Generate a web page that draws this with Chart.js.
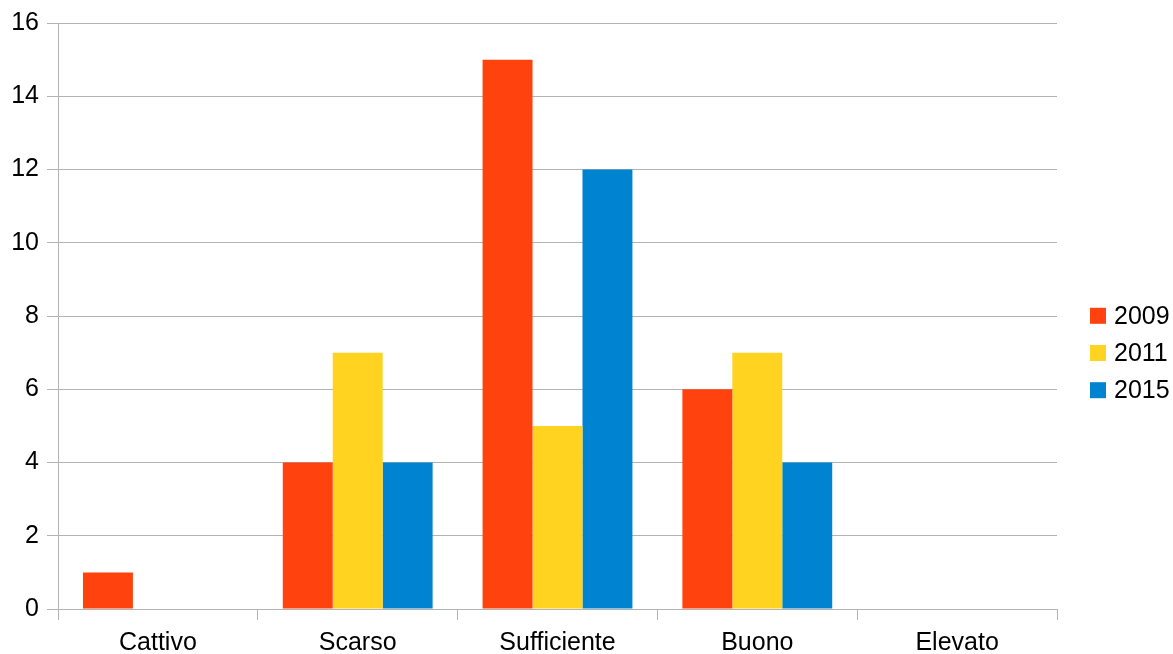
<!DOCTYPE html>
<html>
<head>
<meta charset="utf-8">
<script src="https://cdn.jsdelivr.net/npm/chart.js@4/dist/chart.umd.min.js"></script>
<style>
  html, body { margin: 0; padding: 0; background: #ffffff; }
  #wrap { width: 1173px; height: 654px; }
</style>
</head>
<body>
<div id="wrap"><canvas id="c" width="1173" height="654"></canvas></div>
<script>
// Livelli di valutazione e numero di casi per anno
const categories = ['Cattivo', 'Scarso', 'Sufficiente', 'Buono', 'Elevato'];
const seriesNames = ['2009', '2011', '2015'];
const values2009 = [1, 4, 15, 6, 0];
const values2011 = [0, 7, 5, 7, 0];
const values2015 = [0, 4, 12, 4, 0];
const yTicks = [0, 2, 4, 6, 8, 10, 12, 14, 16];

const colors = ['#ff420e', '#ffd320', '#0084d1'];
const gridGray = '#b3b3b3';
const fontFamily = '"Liberation Sans", Arial, sans-serif';
const fontSize = 25;

// Legenda a destra: quadratino colorato + etichetta della serie
const sideLegend = {
  id: 'sideLegend',
  afterDraw(chart) {
    const ctx = chart.ctx;
    const area = chart.chartArea;
    ctx.save();
    ctx.font = fontSize + 'px ' + fontFamily;
    ctx.textBaseline = 'middle';
    ctx.textAlign = 'left';
    const n = chart.data.datasets.length;
    const step = 37.2;
    const midY = (area.top + area.bottom) / 2 + 37;
    const firstY = midY - step * (n - 1) / 2;
    chart.data.datasets.forEach((ds, i) => {
      const cy = firstY + i * step;
      ctx.fillStyle = ds.backgroundColor;
      ctx.fillRect(area.right + 33, cy - 8, 16, 16);
      ctx.fillStyle = '#000000';
      ctx.fillText(ds.label, area.right + 57, cy + 1);
    });
    ctx.restore();
  }
};

const datasets = [values2009, values2011, values2015].map((vals, i) => ({
  label: seriesNames[i],
  data: vals,
  backgroundColor: colors[i],
  borderWidth: 0,
  categoryPercentage: 0.75,
  barPercentage: 1.0
}));

new Chart(document.getElementById('c'), {
  type: 'bar',
  data: { labels: categories, datasets },
  options: {
    responsive: false,
    animation: false,
    devicePixelRatio: 1,
    layout: { padding: { top: 21, right: 116, left: 0, bottom: 0 } },
    plugins: {
      legend: { display: false },
      tooltip: { enabled: false }
    },
    scales: {
      x: {
        grid: {
          offset: true,
          color: (c) => (c.index === categories.length ? gridGray : 'rgba(0,0,0,0)'),
          tickColor: gridGray,
          tickLength: 11,
          lineWidth: 1
        },
        border: { display: true, color: gridGray, width: 1 },
        ticks: {
          color: '#000000',
          font: { family: fontFamily, size: fontSize },
          padding: 8,
          maxRotation: 0
        },
        afterFit: (s) => { s.height = 45; }
      },
      y: {
        min: 0,
        max: 16,
        afterBuildTicks: (s) => { s.ticks = yTicks.map(v => ({ value: v })); },
        grid: {
          color: gridGray,
          tickColor: gridGray,
          tickLength: 11,
          lineWidth: 1
        },
        border: { display: true, color: gridGray, width: 1 },
        ticks: {
          color: '#000000',
          font: { family: fontFamily, size: fontSize },
          padding: 8
        },
        afterFit: (s) => { s.width = 58; }
      }
    }
  },
  plugins: [sideLegend]
});
</script>
</body>
</html>
